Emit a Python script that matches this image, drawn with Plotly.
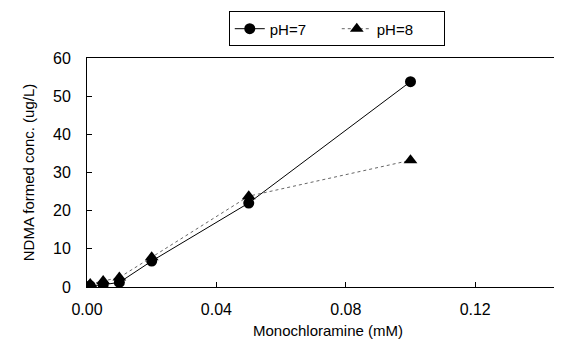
import plotly.graph_objects as go

x_mM = [0.001, 0.005, 0.01, 0.02, 0.05, 0.1]
ph7 = [0.3, 0.6, 1.2, 6.8, 22.0, 53.8]
ph8 = [0.8, 1.6, 2.5, 7.8, 23.8, 33.2]
x_ticks = [0.0, 0.04, 0.08, 0.12]
x_tick_labels = ["0.00", "0.04", "0.08", "0.12"]
y_ticks = [0, 10, 20, 30, 40, 50, 60]

font = "Liberation Sans, Arial, sans-serif"

fig = go.Figure()
fig.add_trace(go.Scatter(
    x=x_mM, y=ph7, name="pH=7", mode="lines+markers",
    line=dict(color="black", width=1),
    marker=dict(symbol="circle", size=11, color="black"),
))
fig.add_trace(go.Scatter(
    x=x_mM, y=ph8, name="pH=8", mode="lines+markers",
    line=dict(color="#666666", width=1, dash="dot"),
    marker=dict(symbol="triangle-up", size=12, color="black"),
))

fig.update_layout(
    width=562, height=345,
    margin=dict(l=79, r=1, t=50, b=66),
    paper_bgcolor="white", plot_bgcolor="white",
    font=dict(family=font, size=15, color="black"),
    showlegend=True,
    legend=dict(
        orientation="h", xref="container", x=0.585, xanchor="center",
        yref="container", y=0.99, yanchor="top",
        bordercolor="black", borderwidth=1, bgcolor="white",
        font=dict(size=15), entrywidth=62, entrywidthmode="pixels",
    ),
    xaxis=dict(
        range=[0, 0.149], tickvals=x_ticks, ticktext=x_tick_labels,
        showline=True, linecolor="black", linewidth=1, mirror=True,
        ticks="inside", ticklen=5, tickcolor="black",
        showgrid=False, zeroline=False,
        tickfont=dict(size=16), ticklabelstandoff=8,
        title=dict(text="Monochloramine (mM)", font=dict(size=15), standoff=8),
    ),
    yaxis=dict(
        range=[0, 60], tickvals=y_ticks,
        showline=True, linecolor="black", linewidth=1, mirror=True,
        ticks="inside", ticklen=5, tickcolor="black",
        showgrid=False, zeroline=False,
        tickfont=dict(size=16), ticklabelstandoff=12,
        title=dict(text="NDMA formed conc. (ug/L)", font=dict(size=15), standoff=14),
    ),
)

fig.write_html("out.html")
